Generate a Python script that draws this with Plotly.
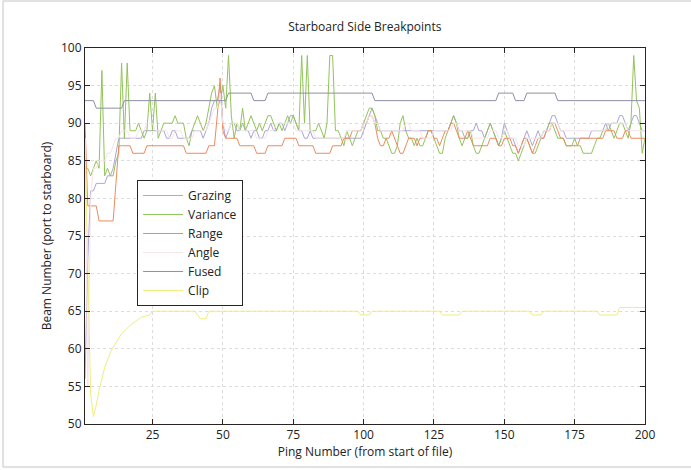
import plotly.graph_objects as go

pings = list(range(1, 201))

grazing = [
    56, 72, 81, 81, 82, 82, 82, 82, 83, 83,
    84, 86, 88, 88, 88, 88, 88, 88, 88, 88,
    88, 89, 89, 89, 89, 89, 89, 89, 89, 88,
    88, 89, 89, 88, 88, 88, 88, 88, 89, 89,
    89, 89, 88, 89, 90, 92, 93, 93, 95, 90,
    88, 89, 90, 90, 89, 89, 90, 89, 89, 88,
    89, 89, 88, 88, 89, 89, 90, 89, 89, 90,
    90, 89, 90, 91, 91, 90, 89, 89, 88, 88,
    89, 88, 88, 88, 88, 88, 88, 88, 88, 88,
    88, 88, 88, 88, 88, 88, 88, 88, 88, 89,
    90, 91, 92, 91, 90, 89, 89, 89, 89, 89,
    89, 89, 89, 89, 89, 89, 89, 89, 89, 89,
    89, 89, 89, 89, 89, 89, 89, 89, 89, 89,
    90, 91, 90, 89, 89, 88, 88, 89, 89, 90,
    89, 89, 88, 89, 90, 89, 88, 87, 88, 90,
    89, 88, 88, 87, 86, 87, 88, 89, 88, 87,
    88, 89, 88, 88, 89, 90, 91, 91, 90, 89,
    89, 88, 88, 88, 88, 88, 88, 88, 88, 88,
    89, 89, 89, 89, 89, 90, 89, 90, 90, 90,
    91, 91, 90, 89, 90, 91, 91, 90, 89, 89,
]

variance = [
    84, 84, 83, 84, 85, 84, 97, 83, 84, 83,
    83, 85, 86, 98, 88, 98, 89, 89, 89, 90,
    89, 88, 89, 94, 89, 94, 88, 89, 90, 90,
    90, 90, 91, 90, 90, 90, 88, 87, 89, 90,
    91, 90, 89, 90, 92, 94, 95, 92, 93, 95,
    92, 99, 91, 88, 90, 89, 92, 89, 90, 91,
    90, 89, 90, 89, 90, 91, 91, 90, 89, 90,
    89, 90, 91, 90, 91, 90, 89, 99, 90, 99,
    89, 89, 89, 90, 89, 88, 90, 99, 99, 89,
    89, 88, 87, 89, 88, 87, 88, 89, 89, 90,
    91, 92, 92, 91, 89, 89, 88, 88, 87, 86,
    86, 87, 90, 91, 89, 88, 88, 87, 88, 87,
    87, 88, 89, 89, 88, 87, 86, 86, 88, 89,
    90, 91, 90, 88, 87, 88, 88, 89, 87, 86,
    86, 87, 88, 89, 90, 89, 88, 87, 88, 89,
    88, 87, 86, 86, 85, 86, 87, 88, 87, 86,
    86, 87, 88, 89, 89, 90, 90, 89, 88, 88,
    88, 87, 87, 87, 88, 87, 87, 86, 86, 86,
    86, 87, 88, 88, 89, 89, 90, 89, 88, 89,
    90, 90, 89, 88, 90, 99, 93, 92, 86, 88,
]

range_bp = [
    90, 79, 79, 79, 79, 77, 77, 77, 77, 77,
    77, 82, 87, 87, 87, 87, 87, 86, 86, 86,
    86, 86, 87, 87, 87, 87, 87, 87, 87, 87,
    87, 87, 87, 87, 87, 87, 86, 86, 86, 86,
    86, 86, 86, 86, 87, 87, 87, 91, 96, 89,
    88, 88, 88, 88, 88, 87, 87, 87, 87, 87,
    87, 86, 86, 86, 86, 87, 87, 87, 87, 87,
    87, 88, 88, 88, 88, 88, 87, 87, 87, 87,
    87, 87, 86, 86, 86, 86, 86, 86, 87, 87,
    87, 87, 88, 88, 88, 89, 89, 89, 89, 90,
    90, 91, 91, 90, 88, 87, 87, 88, 88, 89,
    88, 87, 86, 86, 87, 88, 88, 88, 87, 88,
    88, 88, 89, 89, 88, 88, 87, 88, 89, 89,
    90, 90, 89, 88, 88, 88, 89, 88, 87, 87,
    87, 87, 87, 87, 88, 88, 88, 87, 87, 88,
    88, 88, 87, 87, 86, 87, 88, 88, 87, 86,
    87, 88, 88, 88, 89, 89, 90, 90, 89, 88,
    88, 87, 87, 87, 87, 87, 88, 88, 88, 88,
    88, 88, 88, 88, 88, 89, 89, 89, 89, 88,
    88, 88, 89, 89, 88, 88, 88, 88, 88, 88,
]

angle = [
    88, 55, 80, 84, 84, 85, 85, 85, 86, 86,
    87, 88, 88, 89, 89, 89, 88, 88, 88, 89,
    89, 89, 90, 90, 90, 89, 89, 89, 89, 89,
    88, 88, 89, 89, 89, 88, 88, 88, 88, 89,
    89, 89, 89, 89, 90, 91, 92, 92, 94, 90,
    89, 89, 90, 90, 90, 89, 89, 89, 89, 89,
    89, 88, 88, 88, 88, 89, 89, 89, 90, 90,
    90, 90, 90, 90, 90, 89, 89, 89, 89, 89,
    89, 89, 88, 88, 88, 88, 88, 88, 88, 88,
    88, 88, 88, 89, 89, 89, 89, 89, 89, 90,
    90, 91, 91, 90, 90, 89, 89, 89, 89, 89,
    89, 89, 89, 89, 90, 90, 89, 89, 89, 89,
    88, 88, 88, 88, 89, 89, 89, 89, 89, 89,
    89, 90, 90, 89, 89, 89, 89, 89, 88, 88,
    88, 88, 88, 88, 89, 89, 89, 88, 88, 89,
    89, 88, 88, 88, 87, 87, 87, 88, 88, 88,
    88, 88, 88, 89, 89, 89, 90, 90, 90, 89,
    89, 89, 89, 89, 89, 89, 89, 89, 89, 89,
    89, 89, 89, 89, 89, 89, 90, 90, 90, 90,
    90, 90, 90, 89, 89, 89, 89, 89, 89, 89,
]

fused = [
    93, 93, 93, 93, 92, 92, 92, 92, 92, 92,
    92, 92, 92, 92, 93, 93, 93, 93, 93, 93,
    93, 93, 93, 93, 93, 93, 93, 93, 93, 93,
    93, 93, 93, 93, 93, 93, 93, 93, 93, 93,
    93, 93, 93, 93, 93, 93, 93, 93, 93, 93,
    93, 94, 94, 94, 94, 94, 94, 94, 94, 94,
    93, 93, 93, 93, 93, 94, 94, 94, 94, 94,
    94, 94, 94, 94, 94, 94, 94, 94, 94, 94,
    94, 94, 94, 94, 94, 94, 94, 94, 94, 94,
    94, 94, 94, 94, 94, 94, 94, 94, 94, 94,
    94, 94, 94, 93, 93, 93, 93, 93, 93, 93,
    93, 93, 93, 93, 93, 93, 93, 93, 93, 93,
    93, 93, 93, 93, 93, 93, 93, 93, 93, 93,
    93, 93, 93, 93, 93, 93, 93, 93, 93, 93,
    93, 93, 93, 93, 93, 93, 93, 94, 94, 94,
    94, 94, 94, 93, 93, 93, 93, 94, 94, 94,
    94, 94, 94, 94, 94, 94, 94, 94, 93, 93,
    93, 93, 93, 93, 93, 93, 93, 93, 93, 93,
    93, 93, 93, 93, 93, 93, 93, 93, 93, 93,
    93, 93, 93, 93, 93, 93, 93, 93, 93, 93,
]

clip = [
    88, 70, 54, 51, 52.5, 54.5, 56, 57.5, 58.5, 59.5,
    60.2, 60.8, 61.4, 62, 62.4, 62.8, 63.1, 63.4, 63.7, 64,
    64.2, 64.3, 64.4, 64.5, 65, 65, 65, 65, 65, 65,
    65, 65, 65, 65, 65, 65, 65, 65, 65, 65,
    64.5, 64, 64, 64, 65, 65, 65, 65, 65, 65,
    65, 65, 65, 65, 65, 65, 65, 65, 65, 65,
    65, 65, 65, 65, 65, 65, 65, 65, 65, 65,
    65, 65, 65, 65, 65, 65, 65, 65, 65, 65,
    65, 65, 65, 65, 65, 65, 65, 65, 65, 65,
    65, 65, 65, 65, 65, 65, 65, 65, 64.5, 64.5,
    64.5, 64.5, 65, 65, 65, 65, 65, 65, 65, 65,
    65, 65, 65, 65, 65, 65, 65, 65, 65, 65,
    65, 65, 65, 65, 65, 65, 65, 64.5, 64.5, 64.5,
    64.5, 64.5, 64.5, 64.5, 65, 65, 65, 65, 65, 65,
    65, 65, 65, 65, 65, 65, 65, 65, 65, 65,
    65, 65, 65, 65, 65, 65, 65, 65, 65, 64.5,
    64.5, 64.5, 64.5, 65, 65, 65, 65, 65, 65, 65,
    65, 65, 65, 65, 65, 65, 65, 65, 65, 65,
    65, 65, 65, 64.5, 64.5, 64.5, 64.5, 64.5, 64.5, 64.5,
    65.5, 65.5, 65.5, 65.5, 65.5, 65.5, 65.5, 65.5, 65.5, 65.5,
]

series = [
    ("Grazing", grazing, "#aaa6d6"),
    ("Variance", variance, "#93c35a"),
    ("Range", range_bp, "#ee8a5c"),
    ("Angle", angle, "#f4e4ea"),
    ("Fused", fused, "#8e8ea6"),
    ("Clip", clip, "#eeee80"),
]

x_ticks = [25, 50, 75, 100, 125, 150, 175, 200]
y_ticks = [50, 55, 60, 65, 70, 75, 80, 85, 90, 95, 100]

fig = go.Figure()
for name, values, color in series:
    fig.add_trace(go.Scatter(
        x=pings, y=values, mode="lines", name=name,
        line=dict(color=color, width=1),
    ))

font_family = "Open Sans, Lato, sans-serif"
axis_common = dict(
    showline=True, linecolor="#2b2222", linewidth=1, mirror="ticks",
    ticks="inside", ticklen=5, tickcolor="#2b2222",
    showgrid=True, gridcolor="#dcdcdc", griddash="dot", gridwidth=1,
    zeroline=False, tickfont=dict(size=12, color="#222"),
)

fig.update_layout(
    width=691, height=470,
    margin=dict(l=85, r=46, t=48, b=46),
    paper_bgcolor="white", plot_bgcolor="white",
    font=dict(family=font_family, size=12, color="#222"),
    title=dict(text="Starboard Side Breakpoints", x=0.528, xanchor="center",
               y=0.944, yanchor="middle", font=dict(size=12, color="#222")),
    xaxis=dict(range=[1, 200], tickvals=x_ticks,
               title=dict(text="Ping Number (from start of file)", standoff=0,
                          font=dict(size=12)),
               **axis_common),
    yaxis=dict(range=[50, 100], tickvals=y_ticks,
               title=dict(text="Beam Number (port to starboard)", standoff=6,
                          font=dict(size=12)),
               **axis_common),
    legend=dict(x=0.093, y=0.649, xanchor="left", yanchor="top",
                bgcolor="white", bordercolor="#2b2222", borderwidth=1,
                font=dict(size=12, color="#222"), itemwidth=40,
                tracegroupgap=0),
    showlegend=True,
)

# thin page frame around the figure
fig.add_shape(type="rect", xref="paper", yref="paper",
              x0=-82 / 560, x1=643 / 560, y0=-43 / 376, y1=423 / 376,
              line=dict(color="#c4c4c4", width=1), layer="below")

fig.write_html("out.html")
